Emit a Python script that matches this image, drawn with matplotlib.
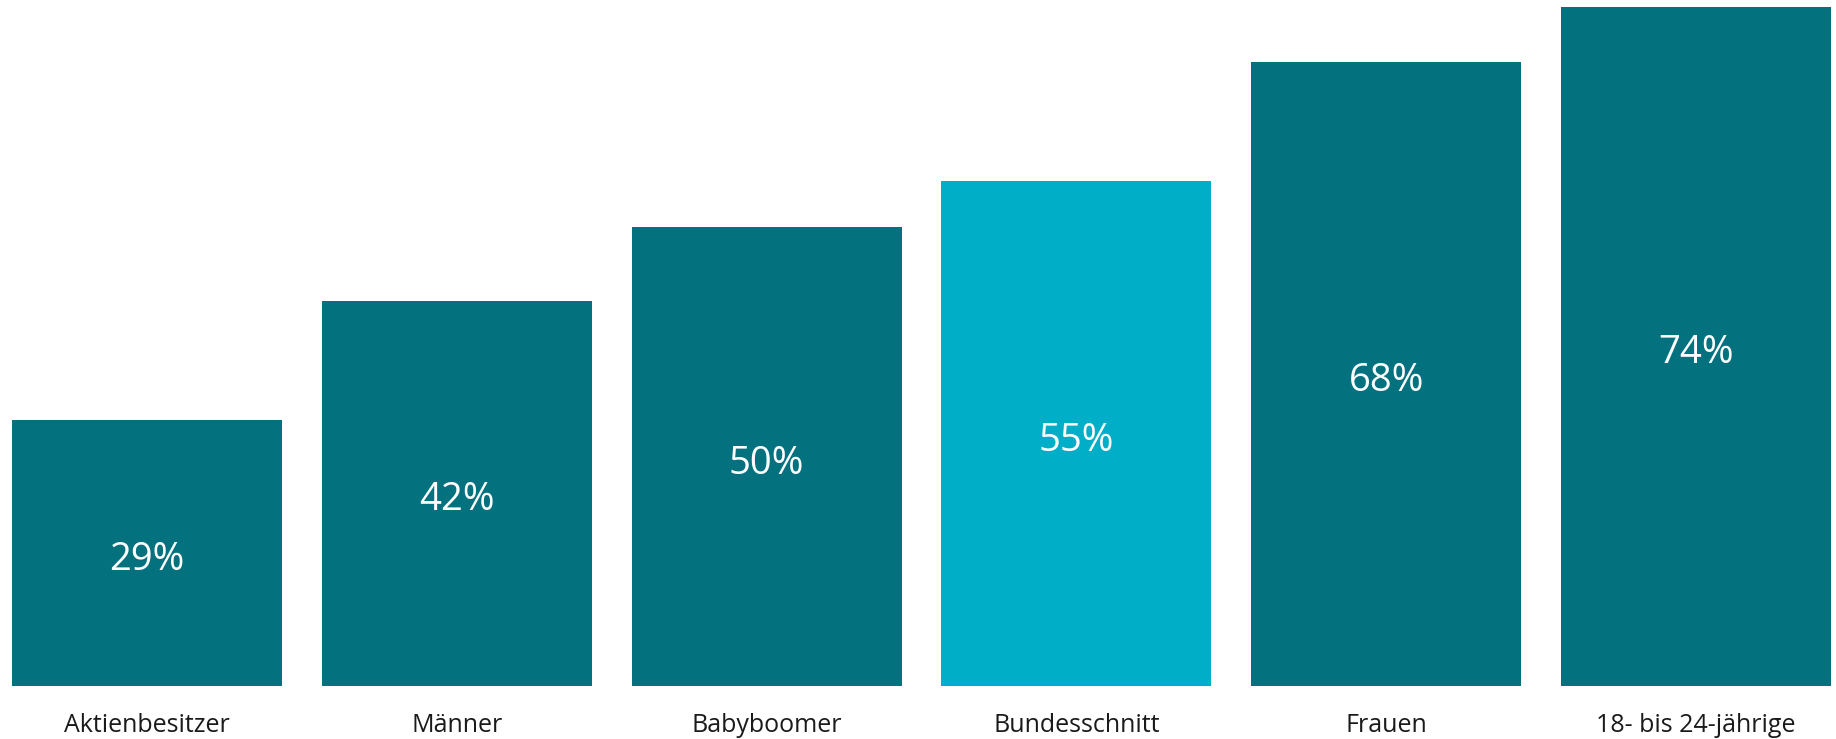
import matplotlib
matplotlib.use("Agg")
import matplotlib.pyplot as plt

categories = ["Aktienbesitzer", "Männer", "Babyboomer", "Bundesschnitt", "Frauen", "18- bis 24-jährige"]
values = [29, 42, 50, 55, 68, 74]
highlight = "Bundesschnitt"

DARK = "#03727E"
LIGHT = "#00AEC7"

W, H, DPI = 1836, 739, 100
fig = plt.figure(figsize=(W / DPI, H / DPI), dpi=DPI)

base_px = 53           # baseline height above the bottom edge
pitch = 309.8          # horizontal distance between bar centres
first_center = 147     # pixel position of the first bar centre
px_per_unit = 9.176    # vertical pixels per percentage point

ax = fig.add_axes([0, base_px / H, 1, 1 - base_px / H])
ax.set_xlim(-first_center / pitch, (W - first_center) / pitch)
ax.set_ylim(0, (H - base_px) / px_per_unit)
ax.axis("off")

x = list(range(len(categories)))
colors = [LIGHT if c == highlight else DARK for c in categories]
ax.bar(x, values, width=0.871, color=colors, linewidth=0)

font = ["Open Sans", "DejaVu Sans"]
label_drop = 7 / px_per_unit
for xi, v, c in zip(x, values, categories):
    ax.text(xi, v / 2 - label_drop, f"{v}%", ha="center", va="center", color="white",
            fontsize=27.5, family=font)
    ax.text(xi, -39 / px_per_unit, c, ha="center", va="center", color="#1a1a1a",
            fontsize=18, family=font, clip_on=False)

fig.savefig("out.png", dpi=DPI)
